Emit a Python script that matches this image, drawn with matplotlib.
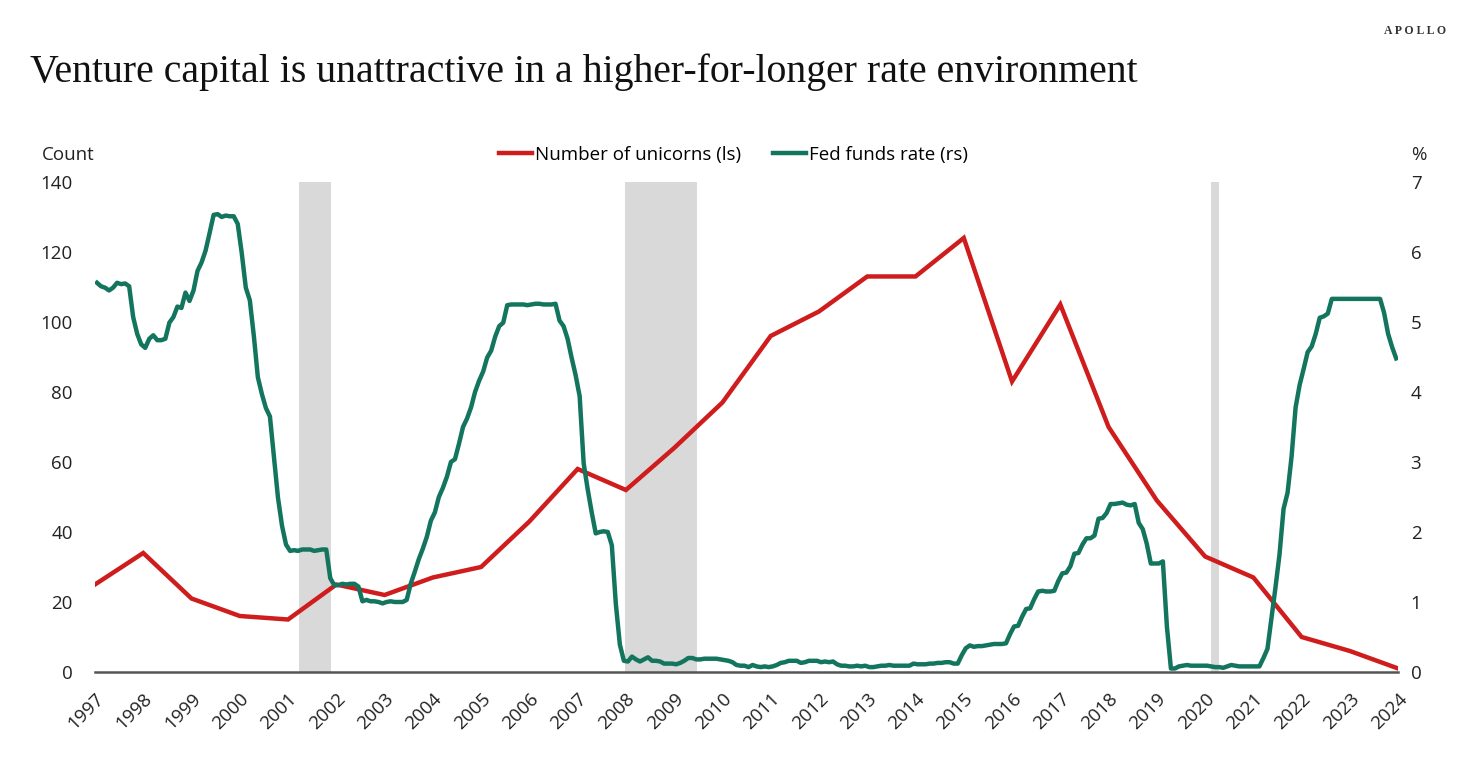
import numpy as np
import matplotlib
matplotlib.use('Agg')
from matplotlib import pyplot as plt

# number of unicorns, one value per year (left scale)
years = [1997, 1998, 1999, 2000, 2001, 2002, 2003, 2004, 2005, 2006, 2007, 2008, 2009, 2010,
         2011, 2012, 2013, 2014, 2015, 2016, 2017, 2018, 2019, 2020, 2021, 2022, 2023, 2024]
unicorns = [25, 34, 21, 16, 15, 25, 22, 27, 30, 43, 58, 52, 64, 77,
            96, 103, 113, 113, 124, 83, 105, 70, 49, 33, 27, 10, 6, 1]

# fed funds rate, monthly, as drawn from 1997 onwards (right scale)
fed_funds = [
    5.56, 5.51, 5.49, 5.45, 5.49, 5.56, 5.54, 5.55, 5.51, 5.07, 4.83, 4.68,
    4.63, 4.76, 4.81, 4.74, 4.74, 4.76, 4.99, 5.07, 5.22, 5.20, 5.42, 5.30,
    5.45, 5.73, 5.85, 6.02, 6.27, 6.53, 6.54, 6.50, 6.52, 6.51, 6.51, 6.40,
    5.98, 5.49, 5.31, 4.80, 4.21, 3.97, 3.77, 3.65, 3.07, 2.49, 2.09, 1.82,
    1.73, 1.74, 1.73, 1.75, 1.75, 1.75, 1.73, 1.74, 1.75, 1.75, 1.34, 1.24,
    1.24, 1.26, 1.25, 1.26, 1.26, 1.22, 1.01, 1.03, 1.01, 1.01, 1.00, 0.98,
    1.00, 1.01, 1.00, 1.00, 1.00, 1.03, 1.26, 1.43, 1.61, 1.76, 1.93, 2.16,
    2.28, 2.50, 2.63, 2.79, 3.00, 3.04, 3.26, 3.50, 3.62, 3.78, 4.00, 4.16,
    4.29, 4.49, 4.59, 4.79, 4.94, 4.99, 5.24, 5.25, 5.25, 5.25, 5.25, 5.24,
    5.25, 5.26, 5.26, 5.25, 5.25, 5.25, 5.26, 5.02, 4.94, 4.76, 4.49, 4.24,
    3.94, 2.98, 2.61, 2.28, 1.98, 2.00, 2.01, 2.00, 1.81, 0.97, 0.39, 0.16,
    0.15, 0.22, 0.18, 0.15, 0.18, 0.21, 0.16, 0.16, 0.15, 0.12, 0.12, 0.12,
    0.11, 0.13, 0.16, 0.20, 0.20, 0.18, 0.18, 0.19, 0.19, 0.19, 0.19, 0.18,
    0.17, 0.16, 0.14, 0.10, 0.09, 0.09, 0.07, 0.10, 0.08, 0.07, 0.08, 0.07,
    0.08, 0.10, 0.13, 0.14, 0.16, 0.16, 0.16, 0.13, 0.14, 0.16, 0.16, 0.16,
    0.14, 0.15, 0.14, 0.15, 0.11, 0.09, 0.09, 0.08, 0.08, 0.09, 0.08, 0.09,
    0.07, 0.07, 0.08, 0.09, 0.09, 0.10, 0.09, 0.09, 0.09, 0.09, 0.09, 0.12,
    0.11, 0.11, 0.11, 0.12, 0.12, 0.13, 0.13, 0.14, 0.14, 0.12, 0.12, 0.24,
    0.34, 0.38, 0.36, 0.37, 0.37, 0.38, 0.39, 0.40, 0.40, 0.40, 0.41, 0.54,
    0.65, 0.66, 0.79, 0.90, 0.91, 1.04, 1.15, 1.16, 1.15, 1.15, 1.16, 1.30,
    1.41, 1.42, 1.51, 1.69, 1.70, 1.82, 1.91, 1.91, 1.95, 2.19, 2.20, 2.27,
    2.40, 2.40, 2.41, 2.42, 2.39, 2.38, 2.40, 2.13, 2.04, 1.83, 1.55, 1.55,
    1.55, 1.58, 0.65, 0.05, 0.05, 0.08, 0.09, 0.10, 0.09, 0.09, 0.09, 0.09,
    0.09, 0.08, 0.07, 0.07, 0.06, 0.08, 0.10, 0.09, 0.08, 0.08, 0.08, 0.08,
    0.08, 0.08, 0.20, 0.33, 0.77, 1.21, 1.68, 2.33, 2.56, 3.08, 3.78, 4.10,
    4.33, 4.57, 4.65, 4.83, 5.06, 5.08, 5.12, 5.33, 5.33, 5.33, 5.33, 5.33,
    5.33, 5.33, 5.33, 5.33, 5.33, 5.33, 5.33, 5.33, 5.13, 4.83, 4.64, 4.48,
]
fed_x = 1997 + (np.arange(len(fed_funds)) + 0.5) / 12.0

# recessions (start, end) in years
recessions = [(2001.23, 2001.89), (2007.98, 2009.47), (2020.13, 2020.29)]

red = '#cf1c1c'
green = '#13755e'
sans = 'Open Sans'
fs = 13.5

fig = plt.figure(figsize=(14.61, 7.71), dpi=100)
ax = fig.add_axes([0.065, 0.1284, 0.892, 0.6356])
ax2 = ax.twinx()

for r0, r1 in recessions:
    ax.axvspan(r0, r1, color='#d9d9d9', lw=0, zorder=0)

ax.plot(years, unicorns, color=red, lw=3.2, zorder=3, solid_joinstyle='miter')
ax2.plot(fed_x, fed_funds, color=green, lw=3.2, zorder=3)

ax.set_xlim(1997, 2024)
ax.set_ylim(0, 140)
ax2.set_ylim(0, 7)
ax.set_yticks(range(0, 141, 20))
ax2.set_yticks(range(0, 8))
ax.set_xticks(years)
ax.set_xticklabels([str(y) for y in years], rotation=45, ha='right', va='top',
                   rotation_mode='anchor')

for a in (ax, ax2):
    for s in a.spines.values():
        s.set_visible(False)
    a.tick_params(length=0, labelsize=fs, colors='#222222')
    for lab in a.get_xticklabels() + a.get_yticklabels():
        lab.set_fontfamily(sans)
ax.tick_params(axis='y', pad=16)
ax.tick_params(axis='x', pad=13)
ax2.tick_params(axis='y', pad=9)
ax.spines['bottom'].set_visible(True)
ax.spines['bottom'].set_color('#555555')
ax.spines['bottom'].set_linewidth(1.8)
ax.spines['bottom'].set_zorder(4)

fig.text(0.0205, 0.893, 'Venture capital is unattractive in a higher-for-longer rate environment',
         fontsize=28.6, family='Liberation Serif', va='baseline', color='#111111')
fig.text(0.990, 0.956, 'A P O L L O', fontsize=8.5, family='Liberation Serif', ha='right',
         va='baseline', color='#333333', weight='bold')
fig.text(0.029, 0.792, 'Count', fontsize=fs, family=sans, color='#222222', va='baseline')
fig.text(0.966, 0.792, '%', fontsize=fs, family=sans, color='#222222', va='baseline')

h1, = ax.plot([], [], color=red, lw=3.2)
h2, = ax.plot([], [], color=green, lw=3.2)
fig.legend([h1, h2], ['Number of unicorns (ls)', 'Fed funds rate (rs)'], loc='center',
           bbox_to_anchor=(0.502, 0.799), ncol=2, frameon=False, handlelength=1.75,
           handletextpad=0.15, columnspacing=1.7, prop={'family': sans, 'size': fs})

fig.savefig('out.png', dpi=100)
